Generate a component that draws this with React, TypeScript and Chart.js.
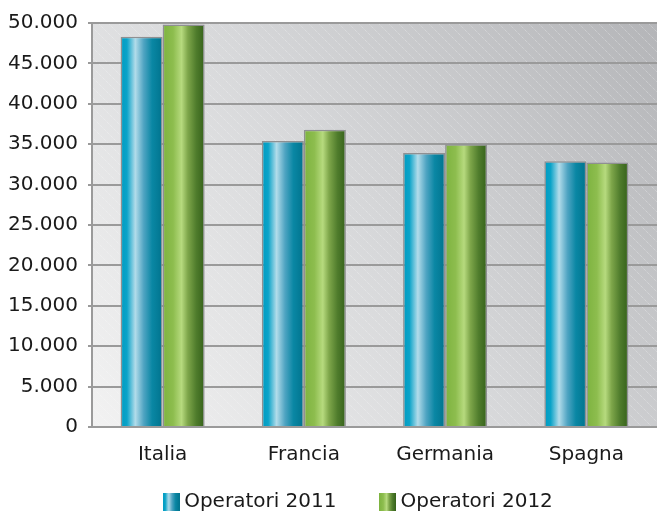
import React, { useEffect, useRef } from 'react';
import { Chart, registerables } from 'chart.js';

Chart.register(...registerables);

const categories = ['Italia', 'Francia', 'Germania', 'Spagna'];
const operatori2011 = [48300, 35400, 33900, 32900];
const operatori2012 = [49800, 36800, 35000, 32750];
const seriesNames = ['Operatori 2011', 'Operatori 2012'];
const yMin = 0;
const yMax = 50000;
const yStep = 5000;

const GROUP_PCT = 0.595;
const FONT = "'DejaVu Sans', sans-serif";

const BLUE_STOPS: [number, string][] = [
  [0, '#009cc2'],
  [0.15, '#0aa3c8'],
  [0.35, '#b2dcea'],
  [0.55, '#4fa4c2'],
  [0.75, '#0a87a4'],
  [1, '#00738d'],
];
const GREEN_STOPS: [number, string][] = [
  [0, '#7db33f'],
  [0.25, '#8dbd4e'],
  [0.45, '#b6da7e'],
  [0.6, '#7ea64a'],
  [0.8, '#4f7c2c'],
  [1, '#35611a'],
];

function makeGradient(ctx: CanvasRenderingContext2D, x0: number, x1: number, stops: [number, string][]) {
  const g = ctx.createLinearGradient(x0, 0, x1, 0);
  stops.forEach(([o, c]) => g.addColorStop(o, c));
  return g;
}

function barColor(c: any, stops: [number, string][]) {
  const chart = c.chart;
  const area = chart.chartArea;
  const xs = chart.scales && chart.scales.x;
  if (!area || !xs || c.dataIndex === undefined) return stops[0][1];
  const center = xs.getPixelForValue(c.dataIndex);
  const cw = area.width / categories.length;
  const bw = (cw * GROUP_PCT) / 2;
  const left = center - bw + c.datasetIndex * bw;
  return makeGradient(chart.ctx, left, left + bw, stops);
}

function legendIcon(stops: [number, string][]) {
  const cv = document.createElement('canvas');
  cv.width = 17;
  cv.height = 18;
  const ctx = cv.getContext('2d')!;
  ctx.fillStyle = makeGradient(ctx, 0, 17, stops);
  ctx.fillRect(0, 0, 17, 18);
  return cv;
}

const backgroundPlugin = {
  id: 'plotBackground',
  beforeDraw(chart: any) {
    const { ctx, chartArea: a } = chart;
    if (!a) return;
    ctx.save();
    const g = ctx.createLinearGradient(a.left, a.bottom, a.right, a.top);
    g.addColorStop(0, '#f2f2f2');
    g.addColorStop(0.5, '#d6d7d9');
    g.addColorStop(1, '#b4b5b8');
    ctx.fillStyle = g;
    ctx.fillRect(a.left, a.top, a.right - a.left, a.bottom - a.top);
    ctx.beginPath();
    ctx.rect(a.left, a.top, a.right - a.left, a.bottom - a.top);
    ctx.clip();
    ctx.strokeStyle = 'rgba(255,255,255,0.4)';
    ctx.lineWidth = 1;
    ctx.setLineDash([1, 1]);
    const h = a.bottom - a.top;
    for (let x = a.left - h; x < a.right; x += 10) {
      ctx.beginPath();
      ctx.moveTo(x, a.top);
      ctx.lineTo(x + h, a.bottom);
      ctx.stroke();
    }
    ctx.restore();
  },
};

export default function App() {
  const ref = useRef<HTMLCanvasElement>(null);

  useEffect(() => {
    document.body.style.margin = '0';
    const icons = [legendIcon(BLUE_STOPS), legendIcon(GREEN_STOPS)];
    const noClip = (s: any) => { s._computeLabelArea = () => undefined; };
    const chart = new Chart(ref.current!, {
      type: 'bar',
      data: {
        labels: categories,
        datasets: [
          {
            label: seriesNames[0],
            data: operatori2011,
            backgroundColor: (c: any) => barColor(c, BLUE_STOPS),
            borderColor: '#8f9092',
            borderWidth: 1.5,
            borderSkipped: 'bottom',
            pointStyle: icons[0] as any,
          },
          {
            label: seriesNames[1],
            data: operatori2012,
            backgroundColor: (c: any) => barColor(c, GREEN_STOPS),
            borderColor: '#8f9092',
            borderWidth: 1.5,
            borderSkipped: 'bottom',
            pointStyle: icons[1] as any,
          },
        ],
      },
      options: {
        animation: false,
        responsive: false,
        maintainAspectRatio: false,
        layout: { padding: { left: 64, right: 0, top: 23, bottom: -8 } },
        datasets: { bar: { barPercentage: 1, categoryPercentage: GROUP_PCT } },
        plugins: {
          legend: {
            position: 'bottom',
            labels: {
              usePointStyle: true,
              pointStyleWidth: 6,
              padding: 48,
              color: '#1a1a1a',
              font: { family: FONT, size: 20 },
            },
          },
          tooltip: { enabled: false },
        },
        scales: {
          x: {
            grid: { display: false },
            border: { display: true, color: '#9a9a9a', width: 2 },
            ticks: { color: '#1a1a1a', font: { family: FONT, size: 20 }, padding: 8 },
            afterFit: (s: any) => { s.height = 17; noClip(s); },
          },
          y: {
            min: yMin,
            max: yMax,
            grid: { color: '#9a9a9a', lineWidth: 2, tickLength: 4, drawTicks: true },
            border: { display: true, color: '#9a9a9a', width: 2 },
            ticks: {
              stepSize: yStep,
              padding: 10,
              color: '#1a1a1a',
              font: { family: FONT, size: 20 },
              callback: (v: any) => String(Math.round(Number(v))).replace(/\B(?=(\d{3})+(?!\d))/g, '.'),
            },
            afterFit: (s: any) => { s.width = 28; noClip(s); },
          },
        },
      },
      plugins: [backgroundPlugin],
    } as any);
    return () => chart.destroy();
  }, []);

  return (
    <div style={{ width: 657, height: 514 }}>
      <canvas ref={ref} width={657} height={514} style={{ display: 'block' }} />
    </div>
  );
}
